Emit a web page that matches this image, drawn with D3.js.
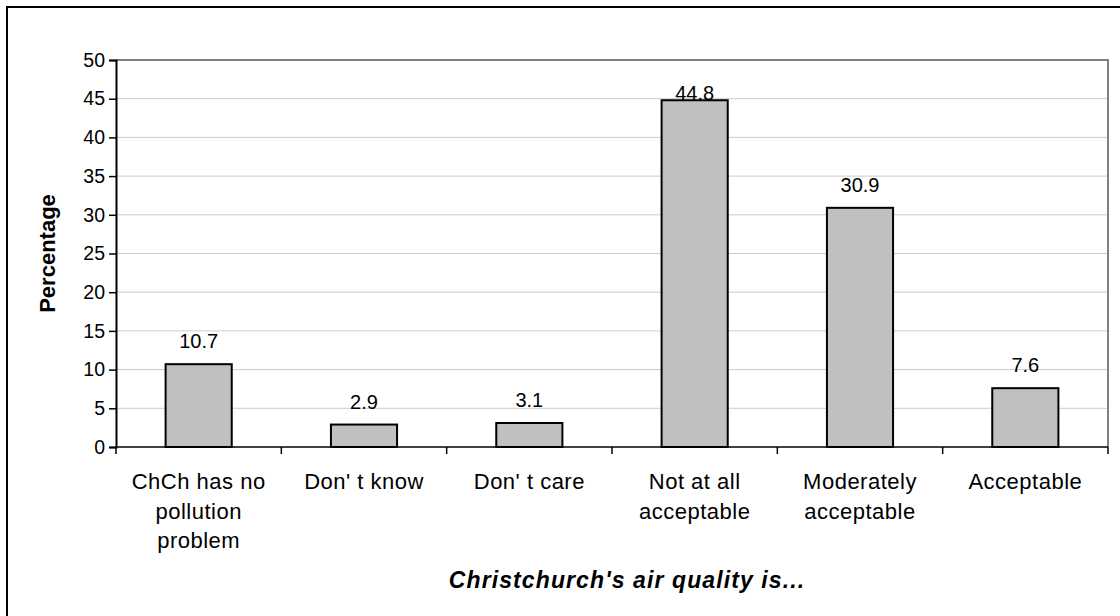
<!DOCTYPE html>
<html>
<head>
<meta charset="utf-8">
<script src="https://cdn.jsdelivr.net/npm/d3@7"></script>
<style>
  html, body { margin: 0; padding: 0; background: #fff; }
  text { font-family: "Liberation Sans", Arial, sans-serif; fill: #000; }
</style>
</head>
<body>
<div id="chart"></div>
<script>
// data
const categories = [
  ["ChCh has no", "pollution", "problem"],
  ["Don' t know"],
  ["Don' t care"],
  ["Not at all", "acceptable"],
  ["Moderately", "acceptable"],
  ["Acceptable"]
];
const values = [10.7, 2.9, 3.1, 44.8, 30.9, 7.6];
const yTicks = [0, 5, 10, 15, 20, 25, 30, 35, 40, 45, 50];
const yTitle = "Percentage";
const xTitle = "Christchurch's air quality is...";

const W = 1120, H = 616;
const plot = { left: 116, right: 1108, top: 60, bottom: 447 };

const svg = d3.select("#chart").append("svg")
  .attr("width", W).attr("height", H);

// outer frame (only top and left visible)
svg.append("path")
  .attr("d", `M7,${H} L7,7 L${W},7`)
  .attr("fill", "none").attr("stroke", "#000").attr("stroke-width", 2);

const x = d3.scaleBand()
  .domain(d3.range(values.length))
  .range([plot.left, plot.right])
  .paddingInner(0.6).paddingOuter(0.3);
const xCat = d3.scaleBand()
  .domain(d3.range(values.length))
  .range([plot.left, plot.right]);
const y = d3.scaleLinear().domain([0, 50]).range([plot.bottom, plot.top]);

// grid
svg.append("g").selectAll("line")
  .data(yTicks.filter(t => t > 0 && t < 50))
  .join("line")
  .attr("x1", plot.left).attr("x2", plot.right)
  .attr("y1", d => y(d)).attr("y2", d => y(d))
  .attr("stroke", "#cccccc").attr("stroke-width", 1);

// plot border top/right
svg.append("path")
  .attr("d", `M${plot.left},${plot.top} L${plot.right},${plot.top} L${plot.right},${plot.bottom}`)
  .attr("fill", "none").attr("stroke", "#808080").attr("stroke-width", 2);

// bars
svg.append("g").selectAll("rect")
  .data(values)
  .join("rect")
  .attr("x", (d, i) => x(i))
  .attr("y", d => y(d))
  .attr("width", x.bandwidth())
  .attr("height", d => y(0) - y(d))
  .attr("fill", "#c0c0c0")
  .attr("stroke", "#000").attr("stroke-width", 2);

// data labels (the tallest one sits right on the bar in the original)
svg.append("g").selectAll("text")
  .data(values)
  .join("text")
  .attr("x", (d, i) => x(i) + x.bandwidth() / 2)
  .attr("y", d => d > 40 ? y(d) : y(d) - 16)
  .attr("text-anchor", "middle")
  .style("font-size", "20px")
  .text(d => d.toFixed(1));

// y axis
const yAxis = d3.axisLeft(y).tickValues(yTicks).tickSize(7).tickPadding(4);
const gy = svg.append("g").attr("transform", `translate(${plot.left},0)`).call(yAxis);
gy.select(".domain").attr("stroke", "#000").attr("stroke-width", 2);
gy.selectAll(".tick line").attr("stroke", "#000").attr("stroke-width", 1.5);
gy.selectAll(".tick text").style("font-size", "19.5px").attr("font-family", null);

// x axis line + ticks at category boundaries
svg.append("line")
  .attr("x1", plot.left).attr("x2", plot.right)
  .attr("y1", plot.bottom).attr("y2", plot.bottom)
  .attr("stroke", "#000").attr("stroke-width", 1.5);
svg.append("g").selectAll("line")
  .data(d3.range(values.length + 1))
  .join("line")
  .attr("x1", i => i < values.length ? xCat(i) : plot.right)
  .attr("x2", i => i < values.length ? xCat(i) : plot.right)
  .attr("y1", plot.bottom).attr("y2", plot.bottom + 7)
  .attr("stroke", "#000").attr("stroke-width", 1.5);

// category labels
const cat = svg.append("g").selectAll("text")
  .data(categories)
  .join("text")
  .attr("text-anchor", "middle")
  .style("font-size", "22px")
  .style("letter-spacing", "0.5px")
  .attr("transform", (d, i) => `translate(${xCat(i) + xCat.bandwidth() / 2},489)`);
cat.selectAll("tspan")
  .data(d => d)
  .join("tspan")
  .attr("x", 0)
  .attr("y", (d, j) => j * 29.5)
  .text(d => d);

// axis titles
svg.append("text")
  .attr("transform", `translate(55,${(plot.top + plot.bottom) / 2}) rotate(-90)`)
  .attr("text-anchor", "middle")
  .style("font-size", "22px").style("font-weight", "bold")
  .text(yTitle);

svg.append("text")
  .attr("x", (plot.left + plot.right) / 2 + 15).attr("y", 588)
  .attr("text-anchor", "middle")
  .style("font-size", "23px").style("font-weight", "bold").style("font-style", "italic")
  .style("letter-spacing", "1.1px")
  .text(xTitle);
</script>
</body>
</html>
